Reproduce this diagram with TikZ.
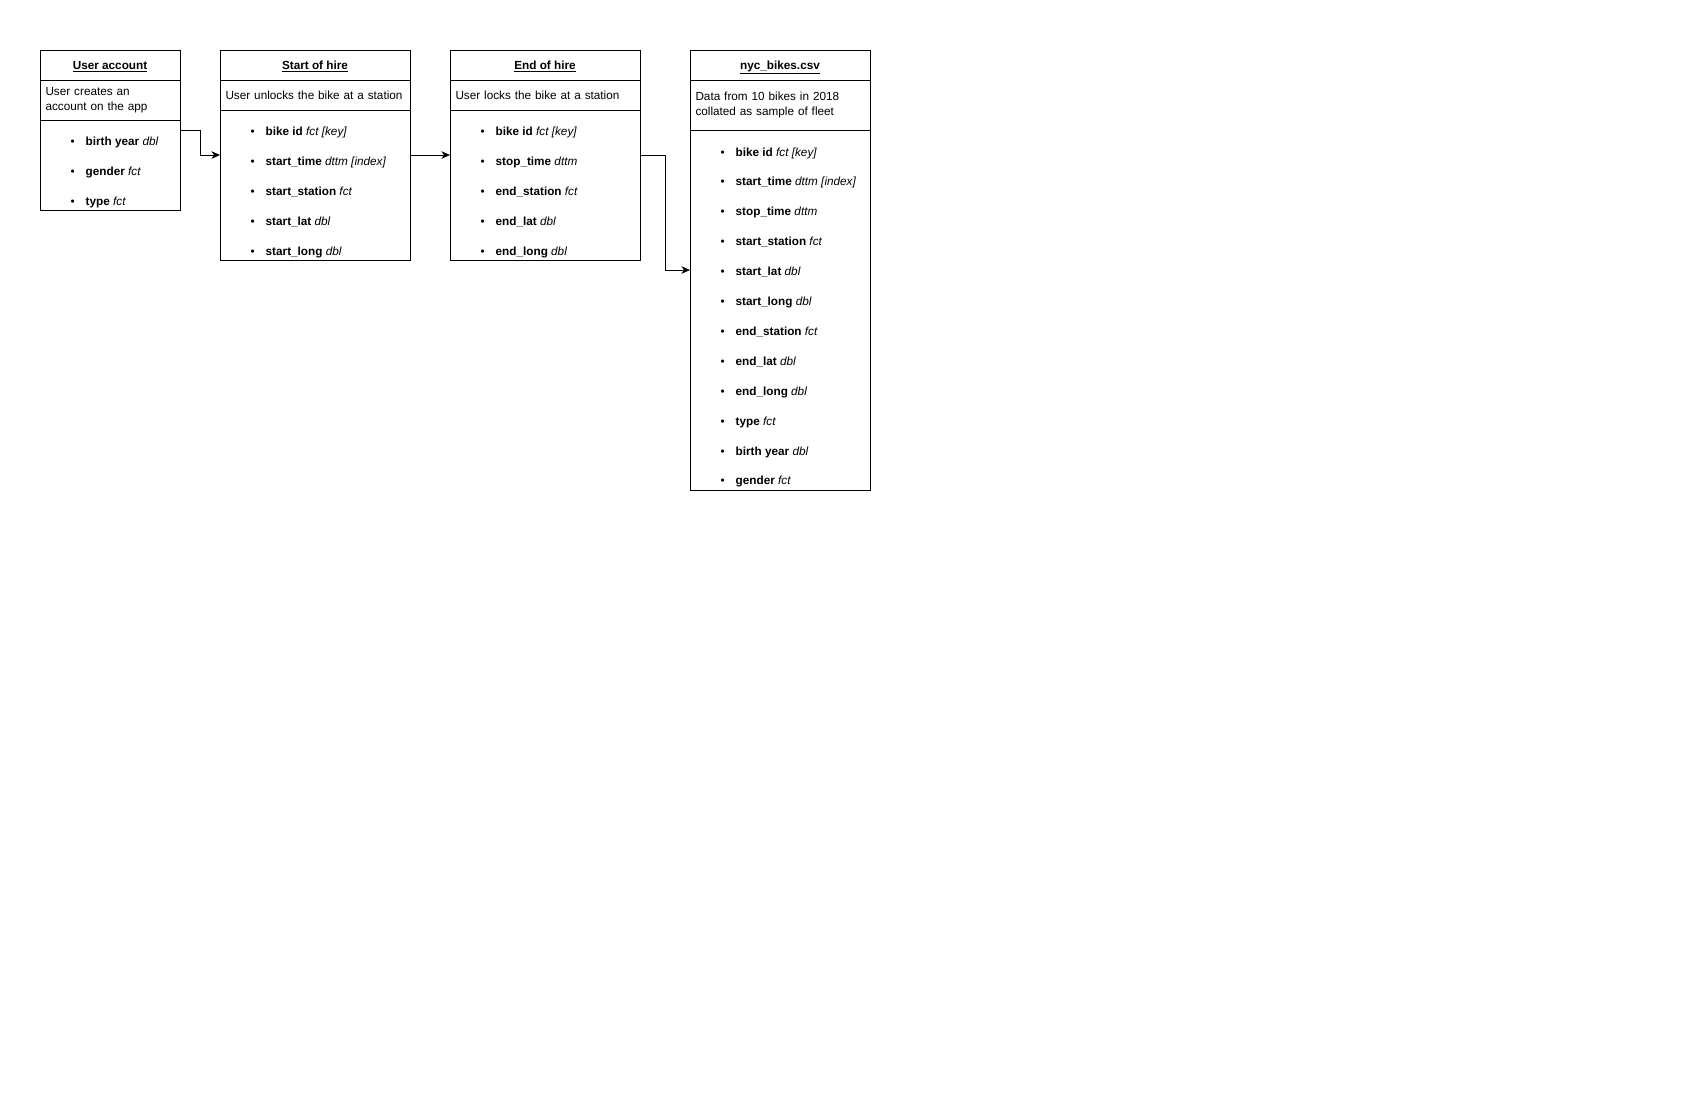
\documentclass[tikz,border=0pt]{standalone}
\usepackage{fontspec}
\setmainfont{Liberation Sans}
\usetikzlibrary{arrows.meta,calc,positioning}

\begin{document}
\begin{tikzpicture}[x=1pt, y=-1pt,
		cell/.style = {draw=black, line width=1pt, inner sep=0pt, outer sep=0pt, font=\fontsize{11.75}{15}\selectfont},
		head/.style = {cell, font=\fontsize{11.75}{15}\selectfont\bfseries, text height=10.5pt, text depth=1.5pt, minimum width=#1, minimum height=30pt},
		desc/.style = {cell, text width=#1, inner xsep=5.5pt, align=left},
		list/.style = {cell, minimum width=#1},
		field/.style = {anchor=base west, inner sep=0pt, font=\fontsize{11.75}{15}\selectfont},
		link/.style = {line width=1pt, -{Stealth[length=8.5pt, width=7.5pt, inset=2.5pt]}}]
	\useasboundingbox (0,0) rectangle (1700,1100);

	% user account
	\node [head=140pt, anchor=north west] (ua-head) at (40,50) {\underline{User account}};
	\node [desc=129pt, minimum height=40pt, below=0pt of ua-head] (ua-desc) {User creates an\\account on the app};
	\node [list=140pt, minimum height=90pt, below=0pt of ua-desc] (ua-list) {};
	\foreach \nm/\ty [count=\i] in {{birth year}/{dbl}, {gender}/{fct}, {type}/{fct}}
		\node [field] (ua-f\i) at ($(ua-list.north west)+(30.5,25.5+30*\i-30)$) {\makebox[15pt][l]{\textbullet}\textbf{\nm} \textit{\ty}};

	% start of hire
	\node [head=190pt, right=40pt of ua-head] (sh-head) {\underline{Start of hire}};
	\node [desc=179pt, minimum height=30pt, below=0pt of sh-head] (sh-desc) {\mbox{User unlocks the bike at a station}};
	\node [list=190pt, minimum height=150pt, below=0pt of sh-desc] (sh-list) {};
	\foreach \nm/\ty [count=\i] in {{bike id}/{fct [key]}, {start\_time}/{dttm [index]}, {start\_station}/{fct}, {start\_lat}/{dbl}, {start\_long}/{dbl}}
		\node [field] (sh-f\i) at ($(sh-list.north west)+(30.5,25.5+30*\i-30)$) {\makebox[15pt][l]{\textbullet}\textbf{\nm} \textit{\ty}};

	% end of hire
	\node [head=190pt, right=40pt of sh-head] (eh-head) {\underline{End of hire}};
	\node [desc=179pt, minimum height=30pt, below=0pt of eh-head] (eh-desc) {\mbox{User locks the bike at a station}};
	\node [list=190pt, minimum height=150pt, below=0pt of eh-desc] (eh-list) {};
	\foreach \nm/\ty [count=\i] in {{bike id}/{fct [key]}, {stop\_time}/{dttm}, {end\_station}/{fct}, {end\_lat}/{dbl}, {end\_long}/{dbl}}
		\node [field] (eh-f\i) at ($(eh-list.north west)+(30.5,25.5+30*\i-30)$) {\makebox[15pt][l]{\textbullet}\textbf{\nm} \textit{\ty}};

	% csv file
	\node [head=180pt, right=50pt of eh-head] (nyc-head) {\underline{nyc\_bikes.csv}};
	\node [desc=169pt, minimum height=50pt, below=0pt of nyc-head] (nyc-desc) {Data from 10 bikes in 2018\\collated as sample of fleet};
	\node [list=180pt, minimum height=360pt, below=0pt of nyc-desc] (nyc-list) {};
	\foreach \nm/\ty [count=\i] in {{bike id}/{fct [key]}, {start\_time}/{dttm [index]}, {stop\_time}/{dttm}, {start\_station}/{fct}, {start\_lat}/{dbl}, {start\_long}/{dbl}, {end\_station}/{fct}, {end\_lat}/{dbl}, {end\_long}/{dbl}, {type}/{fct}, {birth year}/{dbl}, {gender}/{fct}}
		\node [field] (nyc-f\i) at ($(nyc-list.north west)+(30.5,26+29.9*\i-29.9)$) {\makebox[15pt][l]{\textbullet}\textbf{\nm} \textit{\ty}};

	% links
	\draw [link] ([yshift=-10pt]ua-list.north east) -- ++(20,0) |- ([yshift=-45pt]sh-list.north west);
	\draw [link] ([yshift=-45pt]sh-list.north east) -- ([yshift=-45pt]eh-list.north west);
	\draw [link] ([yshift=-45pt]eh-list.north east) -- ++(25,0) |- ([yshift=-140pt]nyc-list.north west);
\end{tikzpicture}
\end{document}
